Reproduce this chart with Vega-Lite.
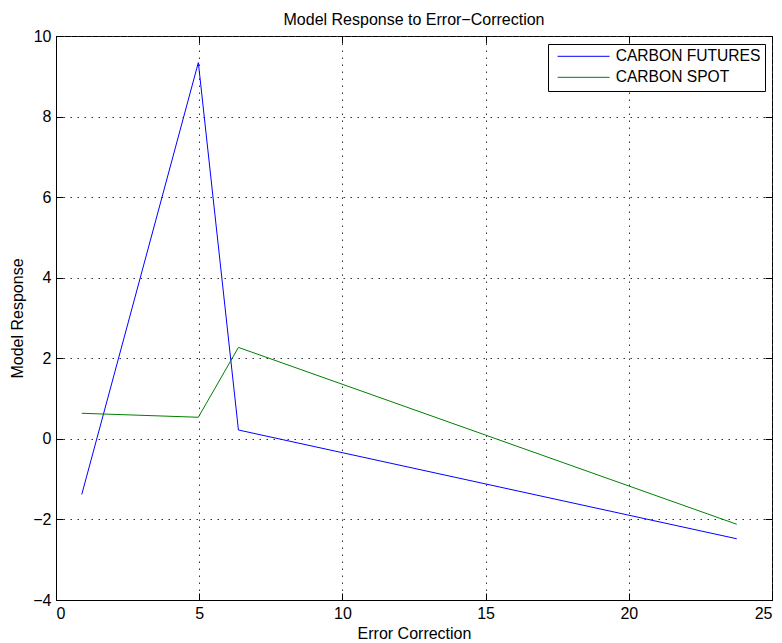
{
  "$schema": "https://vega.github.io/schema/vega-lite/v6.json",
  "width": 716,
  "height": 564,
  "autosize": "none",
  "padding": {"left": 56, "top": 36, "right": 10, "bottom": 43},
  "background": "white",
  "title": {"text": "Model Response to Error−Correction", "fontSize": 16, "fontWeight": "normal", "font": "Liberation Sans", "color": "black", "offset": 0},
  "config": {
    "font": "Liberation Sans",
    "view": {"stroke": "black", "strokeWidth": 1},
    "axis": {
      "labelFont": "Liberation Sans", "labelFontSize": 16, "labelColor": "black",
      "titleFont": "Liberation Sans", "titleFontSize": 16, "titleFontWeight": "normal", "titleColor": "black",
      "domainColor": "black", "tickColor": "black", "tickSize": -7,
      "gridColor": "#333", "gridDash": [1.5, 5.5], "gridWidth": 1
    }
  },
  "data": {"values": [
    {"series": "CARBON FUTURES", "x": 0.9, "y": -1.38},
    {"series": "CARBON FUTURES", "x": 4.97, "y": 9.34},
    {"series": "CARBON FUTURES", "x": 6.37, "y": 0.22},
    {"series": "CARBON FUTURES", "x": 23.77, "y": -2.48},
    {"series": "CARBON SPOT", "x": 0.9, "y": 0.635},
    {"series": "CARBON SPOT", "x": 4.97, "y": 0.536},
    {"series": "CARBON SPOT", "x": 6.37, "y": 2.27},
    {"series": "CARBON SPOT", "x": 23.77, "y": -2.12}
  ]},
  "layer": [
    {
      "mark": {"type": "line", "strokeWidth": 1, "clip": true},
      "encoding": {
        "x": {"field": "x", "type": "quantitative", "scale": {"domain": [0, 25], "nice": false, "zero": false},
              "axis": {"title": "Error Correction", "values": [0, 5, 10, 15, 20, 25], "grid": true, "labelPadding": 12, "titlePadding": 4}},
        "y": {"field": "y", "type": "quantitative", "scale": {"domain": [-4, 10], "nice": false, "zero": false},
              "axis": {"title": "Model Response", "values": [-4, -2, 0, 2, 4, 6, 8, 10], "grid": true, "labelPadding": 12, "titlePadding": 7}},
        "color": {"field": "series", "type": "nominal",
                  "scale": {"domain": ["CARBON FUTURES", "CARBON SPOT"], "range": ["#0000ff", "#008000"]},
                  "legend": {"orient": "none", "legendX": 492, "legendY": 8, "title": null, "symbolType": "M-5,0H5",
                             "symbolSize": 108.16, "symbolStrokeWidth": 1, "labelFontSize": 15.6, "labelColor": "black",
                             "strokeColor": "black", "fillColor": "white", "padding": 4.5, "symbolOffset": 23.3, "labelOffset": 24.3, "rowPadding": 4}}
      }
    },
    {
      "mark": {"type": "point", "opacity": 0},
      "encoding": {
        "x": {"field": "x", "type": "quantitative",
              "axis": {"orient": "top", "labels": false, "title": null, "grid": false, "domain": false, "values": [0, 5, 10, 15, 20, 25]}},
        "y": {"field": "y", "type": "quantitative",
              "axis": {"orient": "right", "labels": false, "title": null, "grid": false, "domain": false, "values": [-4, -2, 0, 2, 4, 6, 8, 10]}}
      }
    }
  ],
  "resolve": {"axis": {"x": "independent", "y": "independent"}}
}
